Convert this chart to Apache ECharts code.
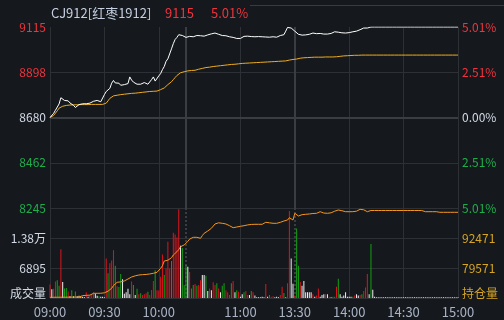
<!DOCTYPE html>
<html><head><meta charset="utf-8">
<script src="https://cdn.jsdelivr.net/npm/echarts@6/dist/echarts.min.js"></script>
<style>html,body{margin:0;padding:0;background:#15181d;}#c{width:504px;height:320px;}</style>
</head><body><div id="c"></div>
<script>
// ---------- data ----------
const contractName = 'CJ912[红枣1912]';
const preClose = 8680;
const priceRange = [8245, 9115];
const priceTickLabels = ['8245', '8462', '8680', '8898', '9115'];
const pctTickLabels = ['5.01%', '2.51%', '0.00%', '2.51%', '5.01%'];
const volMax = 20685;
const volTickLabels = ['成交量', '6895', '1.38万', ''];
const oiRange = [66671, 105371];
const oiTickLabels = ['持仓量', '79571', '92471', ''];
const timeTickLabels = ['09:00', '09:30', '10:00', '11:00', '13:30', '14:00', '14:30', '15:00'];
const gridTimes = ['09:00', '09:30', '10:00', '10:15', '11:00', '13:30', '14:00', '14:30', '15:00'];
const breakTimes = ['10:15', '13:30'];
const sessions = [['09:00', '10:15'], ['10:31', '11:29'], ['13:30', '15:00']];

const priceData = [
8680,8685,8700,8715,8720,8745,8775,8772,8762,8755,
8760,8750,8742,8738,8728,8733,8742,8745,8746,8748,
8746,8749,8749,8752,8758,8760,8762,8758,8756,8754,
8790,8805,8812,8820,8845,8858,8846,8851,8845,8835,
8835,8838,8840,8843,8875,8860,8850,8843,8840,8836,
8840,8845,8848,8851,8840,8848,8862,8875,8855,8860,
8880,8891,8910,8925,8950,8962,8971,9010,9035,9055,
9065,9078,9080,9074,9068,9065,9066,9070,9068,9068,
9072,9074,9076,9073,9075,9071,9071,9077,9080,9082,
9084,9086,9084,9080,9078,9074,9071,9073,9070,9068,
9066,9065,9063,9060,9062,9060,9065,9070,9073,9071,
9071,9069,9070,9068,9066,9069,9068,9068,9070,9067,
9065,9066,9065,9068,9067,9066,9070,9074,9076,9078,
9095,9113,9112,9110,9108,9095,9087,9080,9076,9076,
9078,9077,9081,9080,9080,9086,9084,9083,9084,9084,
9082,9081,9079,9081,9081,9084,9090,9092,9092,9090,
9088,9087,9087,9086,9090,9088,9090,9092,9090,9095,
9100,9102,9098,9110,9113,9110,9113,9115,9115,9115,
9115,9115,9115,9115,9115,9115,9115,9115,9115,9115,
9115,9115,9115,9115,9115,9115,9115,9115,9115,9115,
9115,9115,9115,9115,9115,9115,9115,9115,9115,9115,
9115,9115,9115,9115,9115,9115,9115,9115,9115,9115,
9115,9115,9115,9115,9115,9115
];

const avgData = [
8680,8683,8690,8698,8712,8725,8730,8734,8736,8738,
8739,8740,8741,8741,8741,8741,8742,8742,8742,8742,
8742,8742,8743,8743,8743,8743,8743,8743,8743,8743,
8745,8749,8760,8772,8780,8784,8786,8787,8788,8790,
8791,8792,8793,8794,8795,8796,8796,8797,8798,8799,
8800,8801,8802,8803,8804,8805,8806,8806,8807,8807,
8810,8814,8818,8822,8830,8838,8845,8852,8862,8872,
8882,8890,8895,8898,8900,8902,8904,8905,8906,8907,
8907,8910,8912,8914,8916,8918,8920,8921,8922,8924,
8925,8926,8927,8928,8929,8930,8931,8932,8933,8934,
8935,8936,8936,8937,8938,8939,8940,8940,8941,8941,
8942,8942,8943,8943,8944,8944,8945,8945,8946,8946,
8947,8947,8948,8948,8949,8949,8950,8950,8951,8951,
8952,8954,8956,8958,8959,8960,8961,8963,8965,8966,
8967,8968,8968,8969,8969,8969,8970,8970,8970,8970,
8970,8971,8971,8971,8971,8971,8971,8971,8972,8973,
8974,8975,8976,8976,8977,8977,8978,8978,8979,8979,
8979,8980,8980,8980,8980,8980,8980,8980,8980,8980,
8980,8980,8980,8980,8980,8980,8980,8980,8980,8980,
8980,8980,8980,8980,8980,8980,8980,8980,8980,8980,
8980,8980,8980,8980,8980,8980,8980,8980,8980,8980,
8980,8980,8980,8980,8980,8980,8980,8980,8980,8980,
8980,8980,8980,8980,8980,8980
];

const volumeData = [
3100,2000,2100,3800,4100,2800,11200,3700,2200,2300,
1500,400,1800,400,1500,400,500,300,300,200,
1300,300,600,900,1300,1000,500,400,300,300,
200,9100,5700,8000,8600,11000,7400,2700,2500,5500,
4300,1000,1300,2100,850,3800,3000,700,2100,850,
1070,690,850,1070,1450,690,1840,3900,6400,1800,
1700,4900,10000,5300,6800,12950,6800,8500,15000,14600,
13900,20400,12000,11500,3000,7600,7200,6000,2200,3000,
3200,2800,3000,4100,5300,5300,5100,1600,2200,1800,
3600,3000,3400,2200,1300,2800,3400,1800,1300,700,
3400,3900,1300,1800,1450,300,850,1300,1600,700,
700,1600,1300,600,200,200,200,300,200,3200,
300,700,300,400,200,300,200,700,2600,1150,
200,3400,20000,9100,3300,600,16000,7400,3700,2800,
3900,1300,1300,1300,1300,850,300,600,2200,300,
700,850,850,850,300,200,300,300,2600,4400,
850,300,600,1300,300,300,300,300,600,850,
600,700,850,1600,2400,5500,850,12400,1900,300,
150,180,150,200,150,160,150,180,150,200,
150,170,150,160,200,150,150,180,150,160,
150,200,150,150,170,150,180,150,160,150,
200,150,150,170,150,160,150,180,150,150,
160,150,200,150,170,150
];

// r = up, g = down, w = unchanged
const barDirs = (
'rwrrggrwgg' + 'rwgwgwwwww' + 'rwrrrwwgww' + 'wrgrrrgrgg' + 'wwwwwrgwgr' +
'grrrgrrrgr' + 'rrrgrrrgrr' + 'rrwgggwrgg' + 'rgrrwwgwrw' + 'rrgrwggrrr' +
'grwgrwwgrr' + 'wgrwwwwwwr' + 'wgrrwwwrrg' + 'wrrwwrggrw' + 'wwwwwrwrrw' +
'wwrwrwggrg' + 'wwwwwwwgrw' + 'wrgrrrwgww' + 'wwwwwwwwww' + 'wwwwwwwwww' +
'wwwwwwwwww' + 'wwwwwwwwww' + 'wwwwww').split('');

const oiData = [
66970,66970,66980,66990,67000,67000,67010,67020,67020,67030,
67030,67040,67040,67050,67050,67060,67060,67660,67700,67750,
67800,67850,67900,67960,68690,68690,68700,68700,68710,68720,
68900,69120,69600,70110,70840,72000,72260,73420,73500,73600,
73680,74000,74500,74840,75400,75700,76000,76200,76400,76560,
76650,76700,76750,76800,76860,77000,77200,77300,77500,77700,
78000,79440,80500,82580,82700,82900,83010,84000,85160,86000,
86580,87500,88730,89200,89500,89760,91000,92000,92770,92770,
92770,92770,92500,92340,93500,94500,95180,95480,96000,96640,
97500,98500,99220,99000,98800,98790,98790,98500,98000,97760,
97300,96900,97000,97200,97330,97500,97700,97760,98000,98100,
98200,98300,98360,98360,98360,98360,98360,98360,98360,99220,
99100,99000,98900,98790,98790,98790,98790,99200,99500,99780,
99780,100200,101200,101930,100210,103090,102500,101930,102300,102500,
102660,102660,102700,102800,102900,103000,103090,103090,103500,103780,
103500,103200,103090,103090,103090,103300,103600,104000,104300,104510,
104510,104200,103780,103780,103780,103780,103780,103780,103780,104000,
104400,104800,104940,104600,104000,103780,104300,104300,104300,104300,
104300,104300,104300,104300,104300,104300,104300,104300,104300,104300,
104300,104300,104300,104300,104300,104300,104300,104300,104300,104300,
104300,104300,104300,104300,104300,104300,103780,103780,103780,103780,
103780,103780,103780,103780,103780,103520,103520,103520,103520,103520,
103520,103520,103520,103520,103520,103520
];

// ---------- build ----------
function toMin(s) { const p = s.split(':'); return (+p[0]) * 60 + (+p[1]); }
function fmt(m) { return String(Math.floor(m / 60)).padStart(2, '0') + ':' + String(m % 60).padStart(2, '0'); }
const categories = [];
sessions.forEach(([a, b]) => { for (let m = toMin(a); m <= toMin(b); m++) categories.push(fmt(m)); });

const RED = '#f0333c', GREEN = '#1fae4c', LIGHT = '#d3dae6', GOLD = '#d6a623';
const GRIDC = '#2d3035', BREAKC = '#3a3d42';
const FONT = '"Noto Sans CJK SC", "Liberation Sans", sans-serif';
const half = (priceRange[1] - priceRange[0]) / 2;
const pStep = half / 2;
const lastPrice = priceData[priceData.length - 1];
const lastPct = ((lastPrice - preClose) / preClose * 100).toFixed(2) + '%';
const barColor = { r: '#e0141c', g: '#13a013', w: '#f2f2f2' };
const oiStep = (oiRange[1] - oiRange[0]) / 3;
const vStep = volMax / 3;

const chart = echarts.init(document.getElementById('c'), null, { renderer: 'canvas' });
chart.setOption({
  animation: false,
  backgroundColor: '#15181d',
  textStyle: { fontFamily: FONT },
  title: [
    { text: contractName, left: 51, top: 7, padding: 0, textStyle: { color: '#c5cfdf', fontSize: 13, fontWeight: 'normal', fontFamily: FONT } },
    { text: String(lastPrice), left: 165, top: 7, padding: 0, textStyle: { color: RED, fontSize: 13, fontWeight: 'normal', fontFamily: FONT } },
    { text: lastPct, left: 211, top: 7, padding: 0, textStyle: { color: RED, fontSize: 13, fontWeight: 'normal', fontFamily: FONT } }
  ],
  graphic: [
    { type: 'line', shape: { x1: 250, y1: 5.5, x2: 504, y2: 5.5 }, style: { stroke: '#383b40', lineWidth: 1 }, silent: true }
  ],
  grid: [
    { left: 50, right: 46, top: 27, height: 181 },
    { left: 50, right: 46, top: 208, height: 90 }
  ],
  xAxis: [
    { type: 'category', gridIndex: 0, data: categories, boundaryGap: false,
      axisLine: { show: false }, axisTick: { show: false }, axisLabel: { show: false },
      splitLine: { show: true, interval: (i, v) => gridTimes.includes(categories[i]) && !breakTimes.includes(categories[i]), lineStyle: { color: GRIDC, width: 1 } } },
    { type: 'category', gridIndex: 1, data: categories, boundaryGap: false,
      axisLine: { show: false }, axisTick: { show: false },
      axisLabel: { show: true, interval: (i, v) => timeTickLabels.includes(categories[i]), color: '#a9b3c4', fontSize: 13, margin: 8, fontFamily: FONT },
      splitLine: { show: true, interval: (i, v) => gridTimes.includes(categories[i]) && !breakTimes.includes(categories[i]), lineStyle: { color: GRIDC, width: 1 } } }
  ],
  yAxis: [
    { type: 'value', gridIndex: 0, position: 'left', min: -half, max: half, interval: pStep,
      axisLine: { show: false }, axisTick: { show: false },
      splitLine: { show: true, showMaxLine: false, lineStyle: { color: GRIDC } },
      axisLabel: { margin: 4, fontSize: 12, fontFamily: FONT,
        formatter: v => priceTickLabels[Math.round(v / pStep) + 2],
        color: v => (v > 0.001 ? RED : (v < -0.001 ? GREEN : LIGHT)) } },
    { type: 'value', gridIndex: 0, position: 'right', min: -half, max: half, interval: pStep,
      axisLine: { show: false }, axisTick: { show: false }, splitLine: { show: false },
      axisLabel: { margin: 4, fontSize: 12, fontFamily: FONT,
        formatter: v => pctTickLabels[Math.round(v / pStep) + 2],
        color: v => (v > 0.001 ? RED : (v < -0.001 ? GREEN : LIGHT)) } },
    { type: 'value', gridIndex: 1, position: 'left', min: 0, max: volMax, interval: vStep,
      axisLine: { show: false }, axisTick: { show: false },
      splitLine: { show: true, showMaxLine: false, lineStyle: { color: GRIDC } },
      axisLabel: { margin: 4, fontSize: 12, fontFamily: FONT, color: LIGHT,
        formatter: v => { const i = Math.round(v / vStep); return i === 0 ? '{q|' + volTickLabels[0] + '}' : volTickLabels[i]; },
        rich: { q: { padding: [0, 0, 10, 0], fontSize: 12, color: LIGHT, fontFamily: FONT } } } },
    { type: 'value', gridIndex: 1, position: 'right', min: 0, max: oiRange[1] - oiRange[0], interval: oiStep,
      axisLine: { show: false }, axisTick: { show: false }, splitLine: { show: false },
      axisLabel: { margin: 4, fontSize: 12, fontFamily: FONT, color: GOLD,
        formatter: v => { const i = Math.round(v / oiStep); return i === 0 ? '{q|' + oiTickLabels[0] + '}' : oiTickLabels[i]; },
        rich: { q: { padding: [0, 0, 10, 0], fontSize: 12, color: GOLD, fontFamily: FONT } } } }
  ],
  series: [
    { type: 'line', xAxisIndex: 0, yAxisIndex: 0, data: avgData.map(v => v - preClose),
      showSymbol: false, symbol: 'none', lineStyle: { color: '#eeac1f', width: 1 }, z: 3, silent: true },
    { type: 'line', xAxisIndex: 0, yAxisIndex: 0, data: priceData.map(v => v - preClose),
      showSymbol: false, symbol: 'none', lineStyle: { color: '#ffffff', width: 1 }, z: 4, silent: true,
      markLine: { silent: true, symbol: ['none', 'none'], label: { show: false }, animation: false, z: 1,
        emphasis: { disabled: true },
        lineStyle: { color: BREAKC, width: 2, type: 'solid', opacity: 1 },
        data: [{ xAxis: breakTimes[0] }, { xAxis: breakTimes[1] }, { yAxis: 0 }] } },
    { type: 'bar', xAxisIndex: 1, yAxisIndex: 2, barWidth: 1, silent: true,
      data: volumeData.map((v, i) => ({ value: v, itemStyle: { color: barColor[barDirs[i]] } })),
      markLine: { silent: true, symbol: ['none', 'none'], label: { show: false }, animation: false, z: 1,
        emphasis: { disabled: true },
        lineStyle: { color: BREAKC, width: 2, type: [2, 2], opacity: 1 },
        data: [{ xAxis: breakTimes[0] }, { xAxis: breakTimes[1] }] } },
    { type: 'line', xAxisIndex: 1, yAxisIndex: 3, data: oiData.map(v => v - oiRange[0]),
      showSymbol: false, symbol: 'none', lineStyle: { color: '#f7961c', width: 1 }, z: 4, silent: true }
  ]
});
</script></body></html>
